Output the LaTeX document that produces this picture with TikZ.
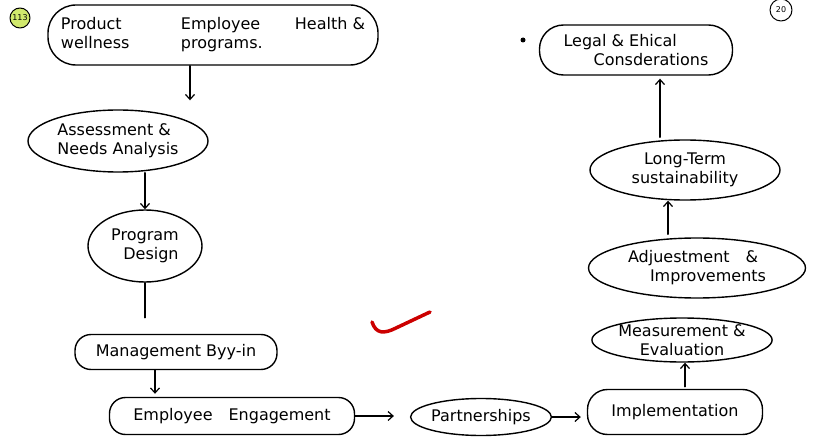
\documentclass[tikz,border=0pt]{standalone}
\usepackage{fontspec}
\setmainfont{DejaVu Sans}
\usetikzlibrary{shapes.geometric,arrows.meta}
\begin{document}
\begin{tikzpicture}[
  x=1pt, y=-1pt,
  line cap=round,
  line join=round,
  every node/.style={font=\fontsize{16}{19}\selectfont},
  ovalbox/.style={draw, ellipse, line width=1.4pt, inner sep=0pt, align=center},
  pillbox/.style={draw, rectangle, rounded corners=16pt, line width=1.4pt, inner sep=0pt, align=center},
  arr/.style={-{Straight Barb[length=5pt,width=9pt]}, line width=1.2pt}
]
  \useasboundingbox (0,0) rectangle (814,441);

  % Page marks
  \draw[line width=1pt, fill=yellow!70!green!60] (20,18) circle[radius=10];
  \node[font=\fontsize{8}{8}\selectfont] (pgA) at (20,18) {113};
  \draw[line width=1pt] (781,10) circle[radius=11];
  \node[font=\fontsize{8}{8}\selectfont] (pgB) at (781,10) {20};
  \fill (523,40) circle[radius=2.5];

  % Left column
  \node[pillbox, minimum width=330pt, minimum height=60pt, rounded corners=28pt] (prod) at (213,35)
    {\begin{tabular}{@{}p{108pt}p{102pt}l@{}}
       Product & Employee & Health \& \\
       wellness & programs. &
     \end{tabular}};
  \node[ovalbox, minimum width=180pt, minimum height=62pt, align=left] (assess) at (118,141)
    {Assessment \&\\Needs Analysis};
  \node[ovalbox, minimum width=114pt, minimum height=72pt] (prog) at (145,246)
    {Program\\\hspace*{12pt}Design};
  \node[pillbox, minimum width=202pt, minimum height=35pt] (mgmt) at (176,352)
    {Management Byy-in};

  % Bottom row
  \node[pillbox, minimum width=245pt, minimum height=37pt] (emp) at (232,416)
    {Employee\quad Engagement};
  \node[ovalbox, minimum width=128pt, minimum height=37pt] (part) at (481,417)
    {Partnerships};
  \node[pillbox, minimum width=175pt, minimum height=45pt, rounded corners=20pt] (impl) at (675,412)
    {Implementation};

  % Right column
  \node[ovalbox, minimum width=180pt, minimum height=44pt] (meas) at (682,340)
    {Measurement \&\\Evaluation};
  \node[ovalbox, minimum width=217pt, minimum height=60pt, align=left] (adj) at (697,268)
    {Adjuestment\quad\&\\\hspace*{22pt}Improvements};
  \node[ovalbox, minimum width=190pt, minimum height=60pt] (long) at (685,170)
    {Long-Term\\sustainability};
  \node[pillbox, minimum width=193pt, minimum height=50pt, rounded corners=24pt, align=left] (legal) at (636,50)
    {Legal \& Ehical\\\hspace*{30pt}Consderations};

  % Connectors
  \draw[arr, shorten >=9pt] ([xshift=-23pt]prod.south) -- ([xshift=-23pt]prod.south |- assess.north);
  \draw[arr] (assess.south -| prog.north) -- (prog.north);
  \draw[line width=1.2pt, shorten >=16pt] (prog.south) -- (prog.south |- mgmt.north);
  \draw[arr, shorten >=3pt] ([xshift=-21pt]mgmt.south) -- ([xshift=-21pt]mgmt.south |- emp.north);
  \draw[arr, shorten >=16pt] (emp.east) -- (emp.east -| part.west);
  \draw[arr, shorten >=6pt] (part.east) -- (part.east -| impl.west);
  \draw[arr, shorten <=2pt] ([xshift=10pt]impl.north) -- ([xshift=3pt]meas.south);
  \draw[arr, shorten <=3pt] ([xshift=-29pt]adj.north) -- ([xshift=-17pt]long.south);
  \draw[arr, shorten <=2pt, shorten >=3pt] ([xshift=-25pt]long.north) -- ([xshift=24pt]legal.south);

  % Red tick
  \draw[red!80!black, line width=3.5pt]
    (372,322) .. controls (376,334) and (384,334) .. (396,328) -- (430,312);
\end{tikzpicture}
\end{document}
